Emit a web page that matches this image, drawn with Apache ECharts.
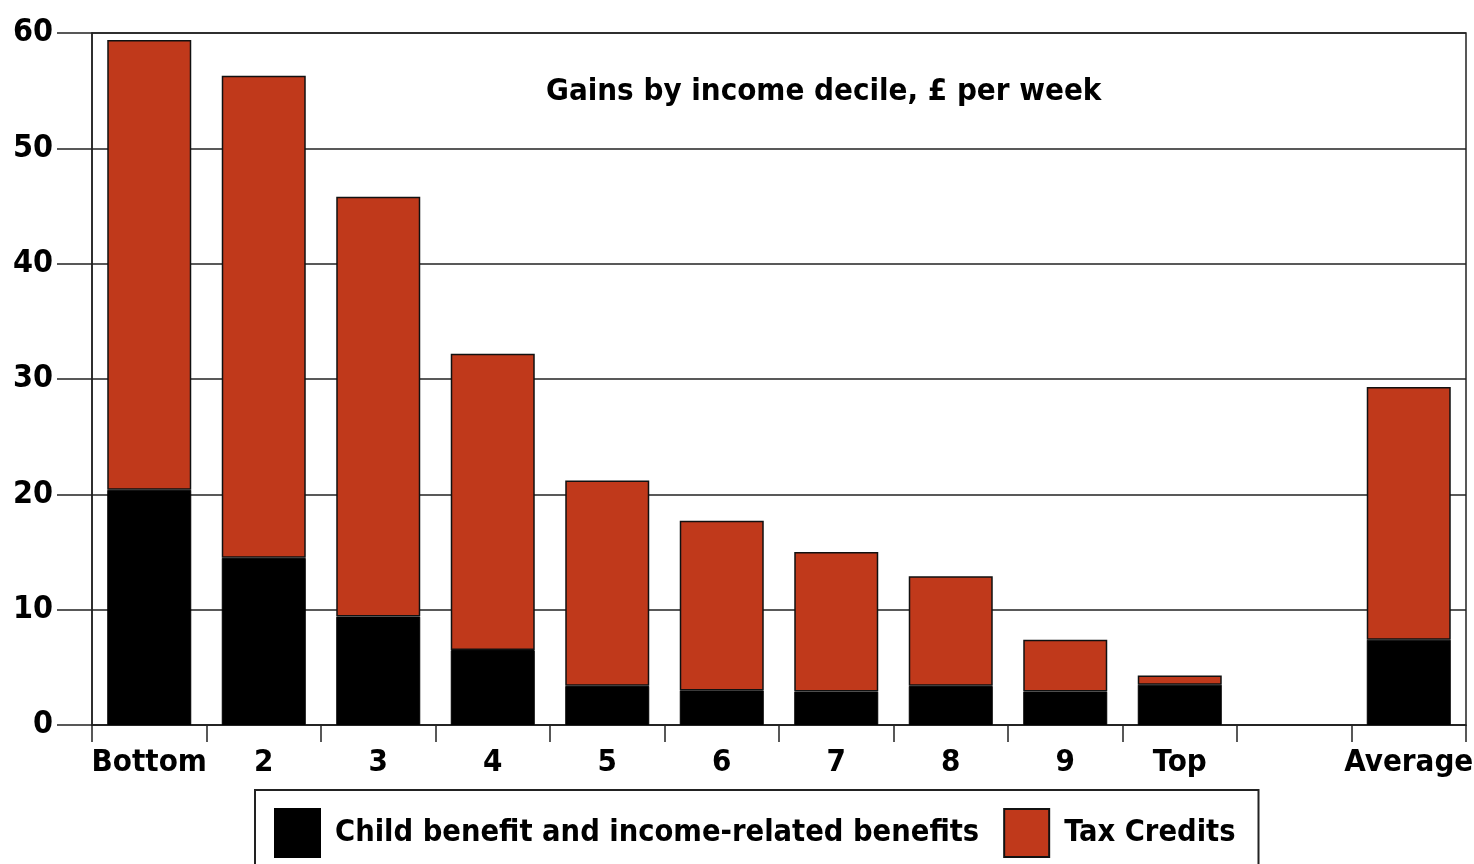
<!DOCTYPE html>
<html><head><meta charset="utf-8">
<script src="https://cdn.jsdelivr.net/npm/echarts@6/dist/echarts.min.js"></script>
<style>html,body{margin:0;padding:0;background:#fff}#c{width:1474px;height:864px}</style>
</head><body><div id="c"></div>
<script>
const categories = ['Bottom','2','3','4','5','6','7','8','9','Top','','Average'];
const childBenefit = [20.4, 14.5, 9.4, 6.5, 3.4, 3.0, 2.9, 3.4, 2.9, 3.5, '-', 7.4];
const taxCredits = [39.0, 41.8, 36.4, 25.7, 17.8, 14.7, 12.1, 9.5, 4.5, 0.8, '-', 21.9];
const seriesNames = ['Child benefit and income-related benefits', 'Tax Credits'];
const chartTitle = 'Gains by income decile, £ per week';
const FONT = '"Liberation Sans Narrow", "DejaVu Sans Condensed", "Liberation Sans", sans-serif';
const RED = '#C0391B';
const chart = echarts.init(document.getElementById('c'), null, {renderer:'canvas'});
chart.setOption({
  animation:false,
  grid:{left:92,right:8,top:33,bottom:139,show:true,borderColor:'#222',borderWidth:1.5,backgroundColor:'transparent',outerBoundsMode:'none',containLabel:false},
  graphic:[{type:'text',left:546,top:76,style:{text:chartTitle,font:'bold 31px '+FONT,fill:'#000'}}],
  legend:{left:255,top:790,padding:[18,23,18,19],itemGap:24,itemWidth:45,itemHeight:48,borderColor:'#222',borderWidth:2,
    textStyle:{fontFamily:FONT,fontWeight:'bold',fontSize:30.5,color:'#000',padding:[0,0,0,10]},
    data:[{name:seriesNames[0],icon:'rect'},{name:seriesNames[1],icon:'rect'}]},
  xAxis:{type:'category',data:categories,
    axisLine:{show:true,lineStyle:{color:'#222',width:1.5}},
    axisTick:{show:true,length:17,interval:0,lineStyle:{color:'#222',width:1.5}},
    axisLabel:{interval:0,margin:22,fontFamily:FONT,fontWeight:'bold',fontSize:31,color:'#000'}},
  yAxis:{type:'value',min:0,max:60,interval:10,
    axisLine:{show:true,lineStyle:{color:'#222',width:1.5}},
    axisTick:{show:true,length:35,lineStyle:{color:'#222',width:1.5}},
    axisLabel:{margin:39,fontFamily:FONT,fontWeight:'bold',fontSize:32,color:'#000'},
    splitLine:{show:true,lineStyle:{color:'#222',width:1.5}}},
  series:[
    {name:seriesNames[0],type:'bar',stack:'s',data:childBenefit,barWidth:84,itemStyle:{color:'#000',borderColor:'#000',borderWidth:1}},
    {name:seriesNames[1],type:'bar',stack:'s',data:taxCredits,barWidth:84,itemStyle:{color:RED,borderColor:'#111',borderWidth:1.5}}
  ]
});
</script></body></html>
